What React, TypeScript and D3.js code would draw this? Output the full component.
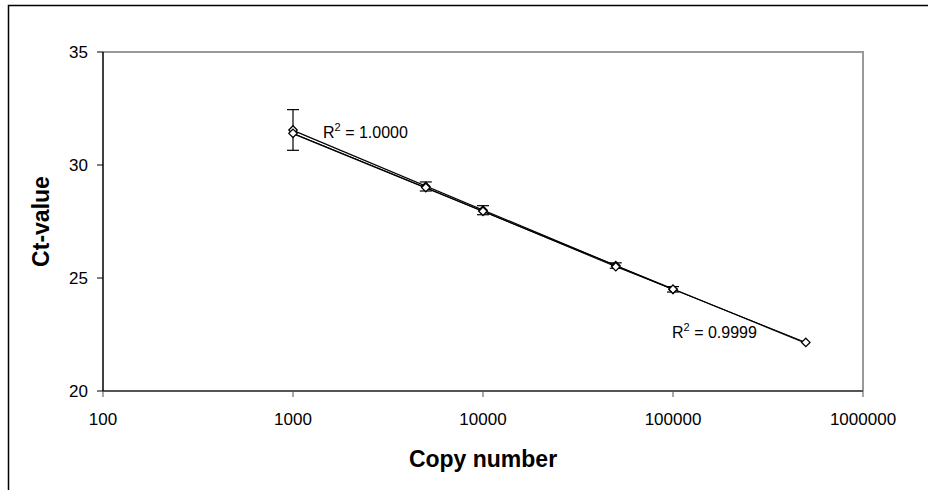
import React, { useRef, useEffect } from 'react';
import * as d3 from 'd3';

// copy numbers and Ct values
const copiesA = [1000, 5000, 10000, 50000, 100000];
const ctA = [31.55, 29.05, 28.0, 25.55, 24.5];
const errA = [0.9, 0.2, 0.2, 0.12, 0.12];

const copiesB = [1000, 5000, 10000, 50000, 100000, 500000];
const ctB = [31.4, 29.0, 27.95, 25.5, 24.5, 22.15];

const xTicks = [100, 1000, 10000, 100000, 1000000];
const yTicks = [20, 25, 30, 35];
const r2Labels = ['1.0000', '0.9999'];

const fitLog = (xs: number[], ys: number[]) => {
  const lx = xs.map((v) => Math.log10(v));
  const mx = d3.mean(lx)!, my = d3.mean(ys)!;
  let num = 0, den = 0;
  lx.forEach((v, i) => { num += (v - mx) * (ys[i] - my); den += (v - mx) ** 2; });
  const b = num / den;
  const a = my - b * mx;
  return (x: number) => a + b * Math.log10(x);
};

const App = () => {
  const ref = useRef<SVGSVGElement>(null);

  useEffect(() => {
    const svg = d3.select(ref.current);
    svg.selectAll('*').remove();

    const width = 928, height = 490;
    const left = 103, right = 863, top = 52, bottom = 391;
    svg.attr('width', width).attr('height', height)
      .style('position', 'absolute').style('left', 0).style('top', 0)
      .style('font-family', 'Liberation Sans, Arial, sans-serif');

    // outer chart frame
    svg.append('rect').attr('x', 8.5).attr('y', 5.5).attr('width', 940).attr('height', 500)
      .attr('fill', 'white').attr('stroke', '#000').attr('stroke-width', 1.5);

    const x = d3.scaleLog().domain([100, 1000000]).range([left, right]);
    const y = d3.scaleLinear().domain([20, 35]).range([bottom, top]);

    // plot area border
    svg.append('path')
      .attr('d', `M${left},${top}H${right}V${bottom}`)
      .attr('fill', 'none').attr('stroke', '#999').attr('stroke-width', 2);

    // x axis
    svg.append('line').attr('x1', left).attr('x2', right).attr('y1', bottom).attr('y2', bottom)
      .attr('stroke', '#555').attr('stroke-width', 2);
    xTicks.forEach((t) => {
      svg.append('line').attr('x1', x(t)).attr('x2', x(t)).attr('y1', bottom).attr('y2', bottom + 6)
        .attr('stroke', '#555').attr('stroke-width', 1);
      svg.append('text').attr('x', x(t)).attr('y', bottom + 34).attr('text-anchor', 'middle')
        .attr('font-size', 17).text(String(t));
    });

    // y axis
    svg.append('line').attr('x1', left).attr('x2', left).attr('y1', top).attr('y2', bottom)
      .attr('stroke', '#000').attr('stroke-width', 1.5);
    yTicks.forEach((t) => {
      svg.append('line').attr('x1', left - 6).attr('x2', left).attr('y1', y(t)).attr('y2', y(t))
        .attr('stroke', '#000').attr('stroke-width', 1);
      svg.append('text').attr('x', left - 15).attr('y', y(t) + 6).attr('text-anchor', 'end')
        .attr('font-size', 17).text(String(t));
    });

    svg.append('text').attr('x', 483).attr('y', 467).attr('text-anchor', 'middle')
      .attr('font-size', 23).attr('font-weight', 'bold').text('Copy number');
    svg.append('text').attr('transform', `translate(49,${(top + bottom) / 2}) rotate(-90)`)
      .attr('text-anchor', 'middle').attr('font-size', 23).attr('font-weight', 'bold').text('Ct-value');

    // trendlines
    const fa = fitLog(copiesA, ctA);
    const fb = fitLog(copiesB, ctB);
    const trend = (f: (v: number) => number, xs: number[]) => {
      const [x0, x1] = d3.extent(xs) as [number, number];
      svg.append('line').attr('x1', x(x0)).attr('y1', y(f(x0)))
        .attr('x2', x(x1)).attr('y2', y(f(x1)))
        .attr('stroke', '#000').attr('stroke-width', 1.2);
    };
    trend(fa, copiesA);
    trend(fb, copiesB);

    // series B connecting line
    const line = d3.line<number>().x((d, i) => x(copiesB[i])).y((d) => y(d));
    svg.append('path').attr('d', line(ctB)).attr('fill', 'none')
      .attr('stroke', '#000').attr('stroke-width', 1);

    // error bars for series A
    copiesA.forEach((c, i) => {
      const cx = x(c), y0 = y(ctA[i] - errA[i]), y1 = y(ctA[i] + errA[i]);
      const g = svg.append('g').attr('stroke', '#000').attr('stroke-width', 1.2);
      g.append('line').attr('x1', cx).attr('x2', cx).attr('y1', y0).attr('y2', y1);
      g.append('line').attr('x1', cx - 6).attr('x2', cx + 6).attr('y1', y0).attr('y2', y0);
      g.append('line').attr('x1', cx - 6).attr('x2', cx + 6).attr('y1', y1).attr('y2', y1);
    });

    const diamond = d3.symbol().type(d3.symbolDiamond2).size(45);
    const markers = (xs: number[], ys: number[]) => {
      xs.forEach((c, i) => {
        svg.append('path').attr('d', diamond())
          .attr('transform', `translate(${x(c)},${y(ys[i])})`)
          .attr('fill', 'white').attr('stroke', '#000').attr('stroke-width', 1.3);
      });
    };
    markers(copiesA, ctA);
    markers(copiesB, ctB);

    // R² labels
    const r2 = (px: number, py: number, val: string) => {
      const t = svg.append('text').attr('x', px).attr('y', py).attr('font-size', 16);
      t.append('tspan').text('R');
      t.append('tspan').attr('font-size', 11).attr('dy', -7).text('2');
      t.append('tspan').attr('dy', 7).text(` = ${val}`);
    };
    r2(x(1000) + 30, y(31.2), r2Labels[0]);
    r2(x(100000) - 1, y(22.35), r2Labels[1]);
  }, []);

  return <svg ref={ref}></svg>;
};

export default App;
